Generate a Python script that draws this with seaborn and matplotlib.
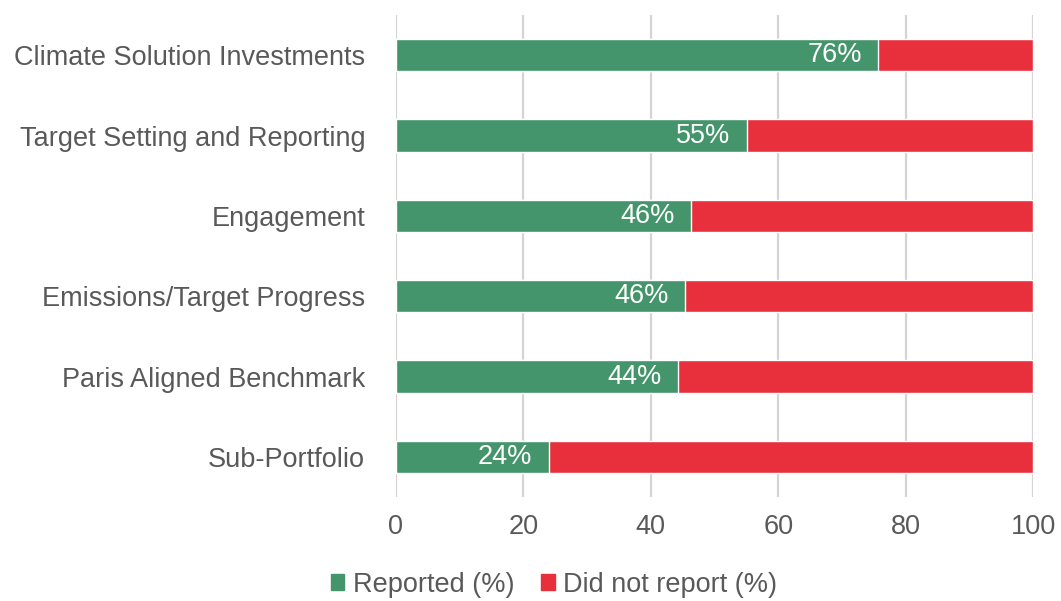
import matplotlib
matplotlib.use("Agg")
import matplotlib.pyplot as plt
import seaborn as sns
import pandas as pd
from matplotlib.patches import Patch

categories = [
    "Climate Solution Investments",
    "Target Setting and Reporting",
    "Engagement",
    "Emissions/Target Progress",
    "Paris Aligned Benchmark",
    "Sub-Portfolio",
]
reported = [75.7, 55.1, 46.3, 45.4, 44.3, 24.0]
labels = ["76%", "55%", "46%", "46%", "44%", "24%"]
total = [100] * len(categories)

GREEN = "#44956B"
RED = "#E8303D"
GREY = "#595959"

sns.set_theme(style="white")
plt.rcParams["font.family"] = ["Liberation Sans", "DejaVu Sans"]

df = pd.DataFrame({"category": categories, "reported": reported, "total": total})

fig = plt.figure(figsize=(10.61, 6.01), dpi=100)
ax = fig.add_axes([0.373, 0.173, 0.601, 0.802])

sns.barplot(data=df, x="total", y="category", color=RED, width=0.4,
            saturation=1, ax=ax, zorder=3)
sns.barplot(data=df, x="reported", y="category", color=GREEN, width=0.4,
            saturation=1, ax=ax, zorder=4)

for i, (v, lab) in enumerate(zip(reported, labels)):
    ax.annotate(lab, xy=(v, i), xytext=(-12, 0), textcoords="offset points",
                ha="right", va="center", color="white", fontsize=19.5, zorder=5)

ax.set_xlim(0, 100)
ax.set_ylim(5.5, -0.5)
ax.set_xticks([0, 20, 40, 60, 80, 100])
ax.xaxis.grid(True, color="#d4d4d4", linewidth=1.6, zorder=0)
ax.set_axisbelow(True)
for s in ax.spines.values():
    s.set_visible(False)
ax.tick_params(axis="both", length=0, labelsize=19.5, labelcolor=GREY)
ax.tick_params(axis="x", pad=12)
ax.tick_params(axis="y", pad=22)
ax.set_xlabel("")
ax.set_ylabel("")

handles = [Patch(color=GREEN, label="Reported (%)"),
           Patch(color=RED, label="Did not report (%)")]
fig.legend(handles=handles, loc="center", bbox_to_anchor=(0.522, 0.027), ncol=2,
           frameon=False, fontsize=19.5, handlelength=0.5, handleheight=0.5,
           handletextpad=0.3, columnspacing=1.0, labelcolor=GREY)

fig.savefig("out.png", dpi=100)
